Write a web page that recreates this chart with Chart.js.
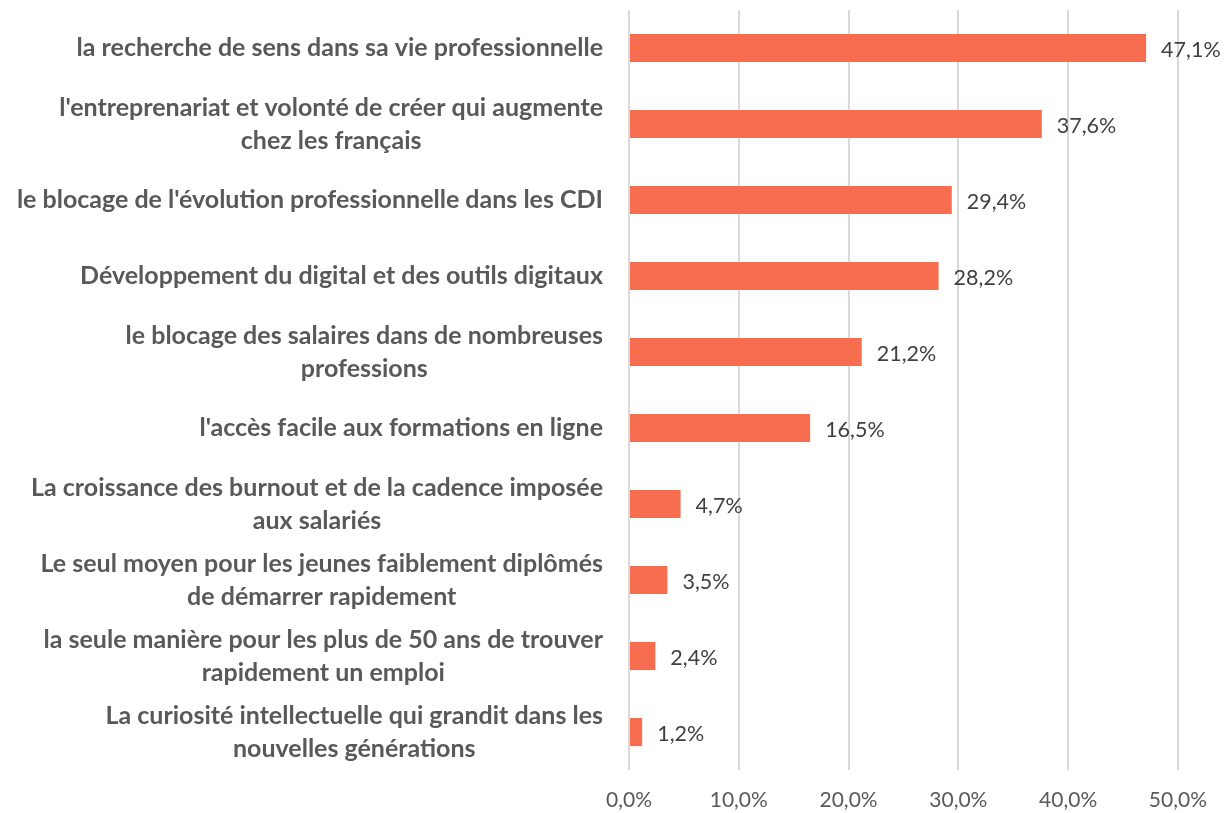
<!DOCTYPE html>
<html>
<head>
<meta charset="utf-8">
<script src="https://cdn.jsdelivr.net/npm/chart.js@4"></script>
<style>
  html, body { margin: 0; padding: 0; background: #fff; }
  #wrap { width: 1225px; height: 813px; }
</style>
</head>
<body>
<div id="wrap"><canvas id="reasonsChart"></canvas></div>
<script>
// RAISONS

const categories = [
  ["la recherche de sens dans sa vie professionnelle"],
  ["l'entreprenariat et volonté de créer qui augmente", "chez les français"],
  ["le blocage de l'évolution professionnelle dans les CDI"],
  ["Développement du digital et des outils digitaux"],
  ["le blocage des salaires dans de nombreuses", "professions"],
  ["l'accès facile aux formations en ligne"],
  ["La croissance des burnout et de la cadence imposée", "aux salariés"],
  ["Le seul moyen pour les jeunes faiblement diplômés", "de démarrer rapidement"],
  ["la seule manière pour les plus de 50 ans de trouver", "rapidement un emploi"],
  ["La curiosité intellectuelle qui grandit dans les", "nouvelles générations"],
];

const values = [47.1, 37.6, 29.4, 28.2, 21.2, 16.5, 4.7, 3.5, 2.4, 1.2];

const xTicks = [0, 10, 20, 30, 40, 50];

const fmt = (v) => v.toFixed(1).replace(".", ",") + "%";

// labels de catégorie : bloc aligné à droite, lignes centrées dans le bloc
const categoryLabels = {
  id: "categoryLabels",
  afterDraw(chart) {
    const ctx = chart.ctx;
    const y = chart.scales.y;
    const right = chart.chartArea.left - 26;
    const lineH = 33;
    ctx.save();
    ctx.font = "bold 25px Lato";
    ctx.fillStyle = "#595959";
    ctx.textBaseline = "middle";
    ctx.textAlign = "center";
    categories.forEach((lines, i) => {
      const w = Math.max(...lines.map((l) => ctx.measureText(l).width));
      const cx = right - w / 2;
      const cy = y.getPixelForValue(i);
      const top = cy - ((lines.length - 1) * lineH) / 2;
      lines.forEach((l, j) => ctx.fillText(l, cx, top + j * lineH));
    });
    ctx.restore();
  },
};

// valeurs à droite des barres
const valueLabels = {
  id: "valueLabels",
  afterDatasetsDraw(chart) {
    const ctx = chart.ctx;
    const meta = chart.getDatasetMeta(0);
    ctx.save();
    ctx.font = "21.5px Lato";
    ctx.fillStyle = "#404040";
    ctx.textBaseline = "middle";
    ctx.textAlign = "left";
    meta.data.forEach((bar, i) => {
      ctx.fillText(fmt(values[i]), bar.x + 15, bar.y + 2);
    });
    ctx.restore();
  },
};

const ctx = document.getElementById("reasonsChart");

new Chart(ctx, {
  type: "bar",
  data: {
    labels: categories.map((c) => c.join(" ")),
    datasets: [
      {
        data: values,
        backgroundColor: "#F66E4F",
        categoryPercentage: 0.37,
        barPercentage: 1,
      },
    ],
  },
  options: {
    indexAxis: "y",
    responsive: true,
    maintainAspectRatio: false,
    animation: false,
    layout: { padding: { top: 10, right: 47, bottom: 0, left: 0 } },
    plugins: {
      legend: { display: false },
      tooltip: { enabled: false },
    },
    scales: {
      x: {
        min: 0,
        max: 50,
        afterBuildTicks: (s) => { s.ticks = xTicks.map((v) => ({ value: v })); },
        afterFit: (s) => { s.height = 43; },
        grid: { color: "#D9D9D9", lineWidth: 2, drawTicks: false },
        border: { display: false },
        ticks: {
          padding: 18,
          color: "#595959",
          font: { family: "Lato", size: 21 },
          callback: (v) => fmt(v),
        },
      },
      y: {
        grid: { display: false },
        border: { display: false },
        ticks: { display: false },
        afterFit: (s) => { s.width = 629; },
      },
    },
  },
  plugins: [categoryLabels, valueLabels],
});
</script>
</body>
</html>
